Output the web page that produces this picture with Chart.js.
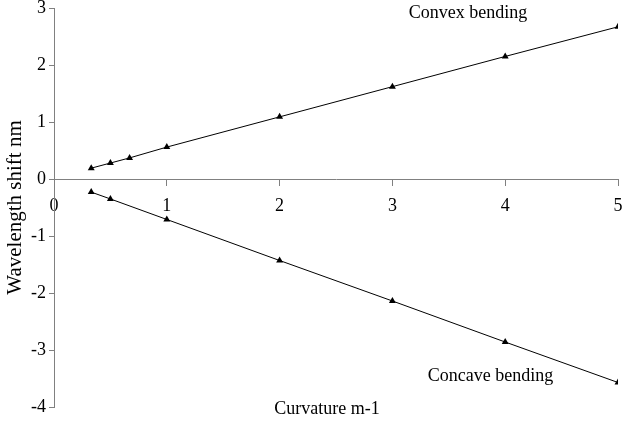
<!DOCTYPE html>
<html>
<head>
<meta charset="utf-8">
<script src="https://cdn.jsdelivr.net/npm/chart.js@4.4.1/dist/chart.umd.min.js"></script>
<style>
  html, body { margin: 0; padding: 0; background: #ffffff; }
  #wrap { width: 622px; height: 424px; }
</style>
</head>
<body>
<div id="wrap"><canvas id="c" width="622" height="424"></canvas></div>
<script>
// ---- data ----
const curvatureConvex = [0.33, 0.5, 0.67, 1, 2, 3, 4, 5];
const shiftConvex     = [0.19, 0.28, 0.37, 0.56, 1.09, 1.62, 2.15, 2.67];
const curvatureConcave = [0.33, 0.5, 1, 2, 3, 4, 5];
const shiftConcave     = [-0.23, -0.35, -0.71, -1.43, -2.14, -2.86, -3.57];
const xTickValues = [0, 1, 2, 3, 4, 5];
const yTickValues = [-4, -3, -2, -1, 0, 1, 2, 3];
const seriesNames = ['Convex bending', 'Concave bending'];
const xTitle = 'Curvature m-1';
const yTitle = 'Wavelength shift nm';

const FONT = '"Liberation Serif", "Times New Roman", serif';
const AXIS_GRAY = '#808080';

function toPoints(xs, ys) { return xs.map((x, i) => ({ x: x, y: ys[i] })); }

// free text labels anchored in data coordinates
const textLabels = [
  { text: seriesNames[0], x: 3.67, y: 2.91 },
  { text: seriesNames[1], x: 3.87, y: -3.46 },
  { text: xTitle, x: 2.42, y: -4.04 }
];

const textPlugin = {
  id: 'freeText',
  afterDraw(chart) {
    const ctx = chart.ctx;
    const xs = chart.scales.x, ys = chart.scales.y;
    ctx.save();
    ctx.font = '18px ' + FONT;
    ctx.fillStyle = '#000';
    ctx.textAlign = 'center';
    ctx.textBaseline = 'middle';
    textLabels.forEach(l => {
      ctx.fillText(l.text, xs.getPixelForValue(l.x), ys.getPixelForValue(l.y));
    });
    ctx.restore();
  }
};

const ds = (label, pts) => ({
  label: label,
  data: pts,
  showLine: true,
  borderColor: '#000',
  backgroundColor: '#000',
  borderWidth: 1,
  pointStyle: 'triangle',
  pointRadius: 4,
  pointBorderWidth: 0,
  pointBackgroundColor: '#000',
  tension: 0
});

new Chart(document.getElementById('c'), {
  type: 'scatter',
  data: {
    datasets: [
      ds(seriesNames[0], toPoints(curvatureConvex, shiftConvex)),
      ds(seriesNames[1], toPoints(curvatureConcave, shiftConcave))
    ]
  },
  options: {
    responsive: false,
    animation: false,
    devicePixelRatio: 1,
    layout: { padding: { left: 0, right: 2, top: 8, bottom: 17 } },
    plugins: { legend: { display: false }, tooltip: { enabled: false } },
    scales: {
      x: {
        type: 'linear',
        position: { y: 0 },
        min: xTickValues[0],
        max: xTickValues[xTickValues.length - 1],
        afterBuildTicks(scale) { scale.ticks = xTickValues.map(v => ({ value: v })); },
        afterFit(scale) { scale.paddingLeft = 0; scale.paddingRight = 0; },
        ticks: { color: '#000', font: { family: FONT, size: 18 }, padding: 10, maxRotation: 0, autoSkip: false },
        grid: { drawOnChartArea: false, drawTicks: true, tickLength: 6, color: AXIS_GRAY, lineWidth: 1 },
        border: { display: true, color: AXIS_GRAY, width: 1 }
      },
      y: {
        type: 'linear',
        position: 'left',
        min: yTickValues[0],
        max: yTickValues[yTickValues.length - 1],
        afterBuildTicks(scale) { scale.ticks = yTickValues.map(v => ({ value: v })); },
        afterFit(scale) { scale.width = 54; scale.paddingTop = 0; scale.paddingBottom = 0; },
        ticks: { color: '#000', font: { family: FONT, size: 18 }, padding: 3, autoSkip: false },
        grid: { drawOnChartArea: false, drawTicks: true, tickLength: 5, color: AXIS_GRAY, lineWidth: 1 },
        border: { display: true, color: AXIS_GRAY, width: 1 },
        title: { display: true, text: yTitle, color: '#000', font: { family: FONT, size: 21 }, padding: { top: 3, bottom: 0 } }
      }
    }
  },
  plugins: [textPlugin]
});
</script>
</body>
</html>
